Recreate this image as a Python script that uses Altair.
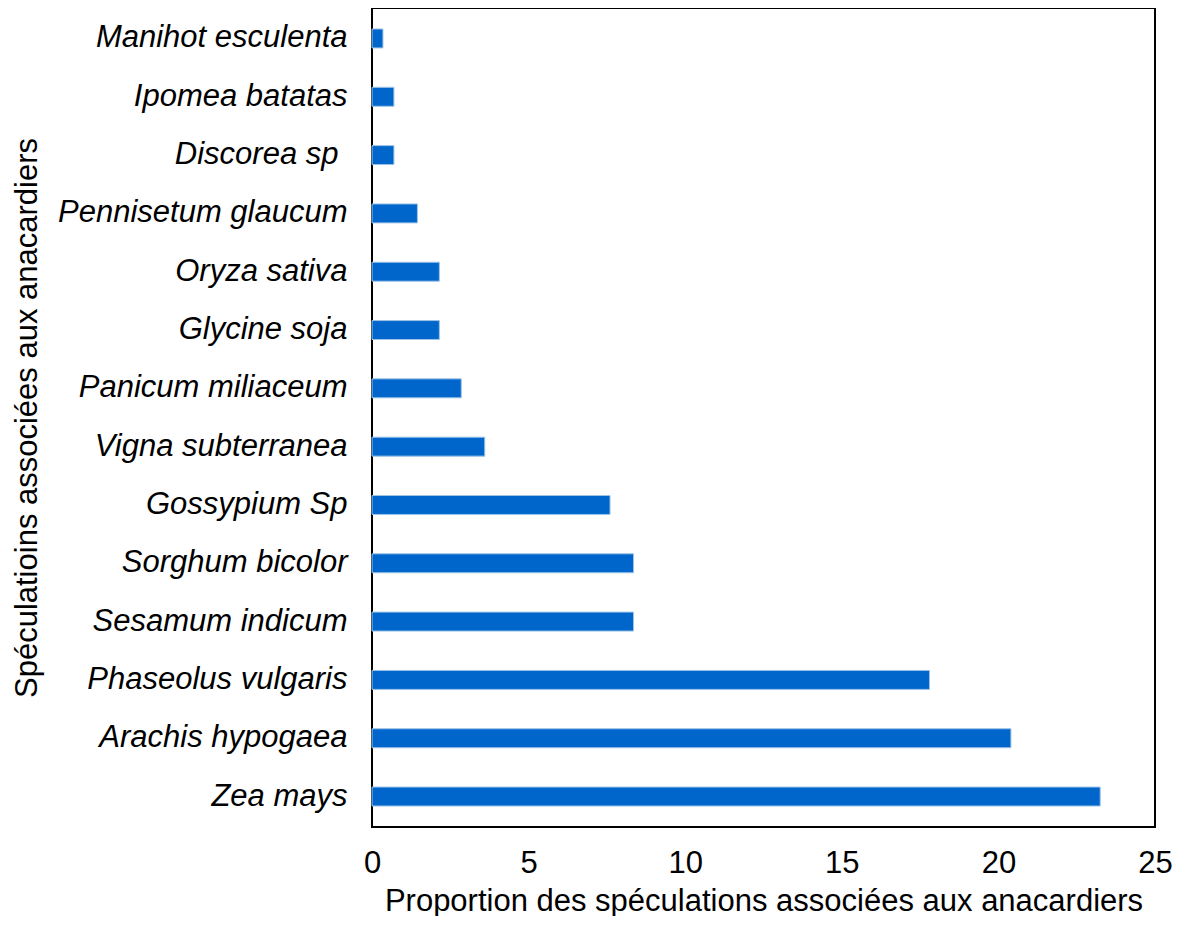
import altair as alt
import pandas as pd

species = [
    "Manihot esculenta", "Ipomea batatas", "Discorea sp", "Pennisetum glaucum",
    "Oryza sativa", "Glycine soja", "Panicum miliaceum", "Vigna subterranea",
    "Gossypium Sp", "Sorghum bicolor", "Sesamum indicum", "Phaseolus vulgaris",
    "Arachis hypogaea", "Zea mays",
]
proportion = [0.35, 0.7, 0.7, 1.45, 2.15, 2.15, 2.85, 3.6, 7.6, 8.35, 8.35, 17.8, 20.4, 23.25]
x_ticks = [0, 5, 10, 15, 20, 25]

df = pd.DataFrame({"species": species, "proportion": proportion})

FONT = "Liberation Sans"
W, H = 783, 819

chart = alt.Chart(df).mark_bar(
    color="#0066CC", stroke="#9DC3E6", strokeWidth=1
).encode(
    x=alt.X(
        "proportion:Q",
        scale=alt.Scale(domain=[0, 25], nice=False),
        axis=alt.Axis(
            values=x_ticks, grid=False, ticks=False, domain=False,
            labelFont=FONT, labelFontSize=31, labelColor="black",
            labelPadding=21, labelFlush=False,
            title="Proportion des spéculations associées aux anacardiers",
            titleFont=FONT, titleFontSize=31, titleFontWeight="normal",
            titleColor="black", titlePadding=8,
        ),
    ),
    y=alt.Y(
        "species:N",
        sort=species,
        scale=alt.Scale(paddingInner=0.675, paddingOuter=0.36),
        axis=alt.Axis(
            grid=False, ticks=False, domain=False,
            labelFont=FONT, labelFontSize=31, labelFontStyle="italic",
            labelColor="black",
            labelPadding={"condition": {"test": "datum.value === 'Discorea sp'", "value": 34}, "value": 25},
            labelLimit=500,
            title="Spéculatioins associées aux anacardiers",
            titleFont=FONT, titleFontSize=31, titleFontWeight="normal",
            titleColor="black", titleAngle=270, titleBaseline="middle",
            titleAlign="center", titleX=-345, titleY=H / 2,
        ),
    ),
).properties(
    width=W, height=H,
    padding={"left": 3, "top": 0, "right": 0, "bottom": 0},
).configure_view(
    stroke="black", strokeWidth=2
)

chart.save("out.html", embed_options={"renderer": "svg", "actions": False})
